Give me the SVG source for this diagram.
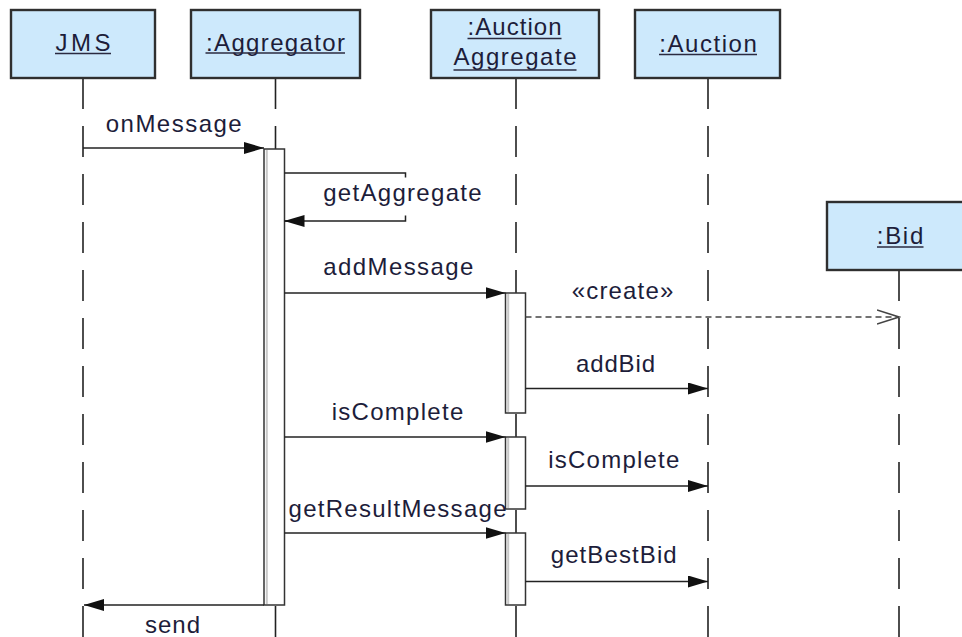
<svg xmlns="http://www.w3.org/2000/svg" width="962" height="637" viewBox="0 0 962 637">
<style>
  .box{fill:#cde9fc;stroke:#2f2f2f;stroke-width:2.4}
  .t{font-family:"Liberation Sans",Arial,sans-serif;font-size:24px;fill:#1d1d3a;text-anchor:middle}
  .ul{stroke:#2a2a40;stroke-width:1.6}
  .life{stroke:#222;stroke-width:1.6;stroke-dasharray:31 17;fill:none}
  .bar{fill:#fff;stroke:#333;stroke-width:1.5}
  .barsh{stroke:#c8c8c8;stroke-width:2}
  .msg{stroke:#222;stroke-width:1.5;fill:none}
  .dash{stroke:#444;stroke-width:1.5;stroke-dasharray:6 4;fill:none}
</style>
<defs>
  <marker id="fill" markerUnits="userSpaceOnUse" markerWidth="20" markerHeight="12" refX="20" refY="6" orient="auto">
    <path d="M0,0 L20,6 L0,12 z" fill="#111"/>
  </marker>
  <marker id="open" markerUnits="userSpaceOnUse" markerWidth="24" markerHeight="16" refX="22" refY="8" orient="auto">
    <path d="M0,1 L22,8 L0,15" fill="none" stroke="#444" stroke-width="1.5"/>
  </marker>
</defs>
<rect width="962" height="637" fill="#fff"/>

<g id="lifelines">
  <line class="life" x1="83" y1="78" x2="83" y2="637"/>
  <line class="life" x1="275.5" y1="78" x2="275.5" y2="637"/>
  <line class="life" x1="516" y1="78" x2="516" y2="637"/>
  <line class="life" x1="708" y1="78" x2="708" y2="637"/>
  <line class="life" x1="899" y1="270" x2="899" y2="637"/>
</g>

<g id="jms">
  <rect class="box" x="11" y="10" width="144" height="68"/>
  <text class="t" x="83" y="51" textLength="55" lengthAdjust="spacing">JMS</text>
  <line class="ul" x1="55" y1="53.5" x2="111" y2="53.5"/>
</g>
<g id="aggregator">
  <rect class="box" x="191" y="10" width="169" height="68"/>
  <text class="t" x="275.5" y="50.5" textLength="139" lengthAdjust="spacing">:Aggregator</text>
  <line class="ul" x1="205.5" y1="53" x2="345" y2="53"/>
  <rect class="bar" x="264" y="149" width="20.5" height="456"/>
  <line class="barsh" x1="266.8" y1="150" x2="266.8" y2="604"/>
</g>
<g id="auctionAggregate">
  <rect class="box" x="431" y="10" width="168" height="68"/>
  <text class="t" x="514.5" y="35" textLength="94" lengthAdjust="spacing">:Auction</text>
  <line class="ul" x1="467.5" y1="38.5" x2="561.5" y2="38.5"/>
  <text class="t" x="515" y="65" textLength="123" lengthAdjust="spacing">Aggregate</text>
  <line class="ul" x1="453.5" y1="70" x2="576.5" y2="70"/>
  <rect class="bar" x="505.5" y="293" width="20" height="120"/>
  <line class="barsh" x1="508.2" y1="294" x2="508.2" y2="412"/>
  <rect class="bar" x="505.5" y="437" width="20" height="72"/>
  <line class="barsh" x1="508.2" y1="438" x2="508.2" y2="508"/>
  <rect class="bar" x="505.5" y="533" width="20" height="72"/>
  <line class="barsh" x1="508.2" y1="534" x2="508.2" y2="604"/>
</g>
<g id="auction">
  <rect class="box" x="635" y="10" width="145" height="68"/>
  <text class="t" x="708" y="51.5" textLength="97.5" lengthAdjust="spacing">:Auction</text>
  <line class="ul" x1="659" y1="54.5" x2="757" y2="54.5"/>
</g>
<g id="bid">
  <rect class="box" x="827" y="202" width="150" height="68"/>
  <text class="t" x="900" y="244" textLength="46.5" lengthAdjust="spacing">:Bid</text>
  <line class="ul" x1="877" y1="247" x2="923.5" y2="247"/>
</g>

<g id="connectors">
  <line class="msg" x1="83" y1="148" x2="264" y2="148" marker-end="url(#fill)"/>
  <path class="msg" d="M284.5,173 H405.5 V177.5 M405.5,215.5 V221 H284.5"/>
  <line class="msg" x1="300" y1="221" x2="284.5" y2="221" marker-end="url(#fill)"/>
  <line class="msg" x1="284.5" y1="293" x2="505.5" y2="293" marker-end="url(#fill)"/>
  <line class="dash" x1="525.5" y1="317" x2="899" y2="317" marker-end="url(#open)"/>
  <line class="msg" x1="525.5" y1="388.5" x2="708" y2="388.5" marker-end="url(#fill)"/>
  <line class="msg" x1="284.5" y1="437" x2="505.5" y2="437" marker-end="url(#fill)"/>
  <line class="msg" x1="525.5" y1="486" x2="708" y2="486" marker-end="url(#fill)"/>
  <line class="msg" x1="284.5" y1="533" x2="505.5" y2="533" marker-end="url(#fill)"/>
  <line class="msg" x1="525.5" y1="581.5" x2="708" y2="581.5" marker-end="url(#fill)"/>
  <line class="msg" x1="264" y1="605" x2="84" y2="605" marker-end="url(#fill)"/>
</g>

<g id="labels">
  <text class="t" x="173.7" y="132" textLength="136" lengthAdjust="spacing">onMessage</text>
  <text class="t" x="402.4" y="201" textLength="158.5" lengthAdjust="spacing">getAggregate</text>
  <text class="t" x="398.3" y="275" textLength="150" lengthAdjust="spacing">addMessage</text>
  <text class="t" x="622.5" y="299" textLength="101.5" lengthAdjust="spacing">«create»</text>
  <text class="t" x="615.5" y="371.5" textLength="79" lengthAdjust="spacing">addBid</text>
  <text class="t" x="397.5" y="420" textLength="131.5" lengthAdjust="spacing">isComplete</text>
  <text class="t" x="613.8" y="468" textLength="131" lengthAdjust="spacing">isComplete</text>
  <text class="t" x="397.5" y="516.5" textLength="218" lengthAdjust="spacing">getResultMessage</text>
  <text class="t" x="613.7" y="563" textLength="126" lengthAdjust="spacing">getBestBid</text>
  <text class="t" x="172.5" y="633" textLength="55" lengthAdjust="spacing">send</text>
</g>
</svg>
